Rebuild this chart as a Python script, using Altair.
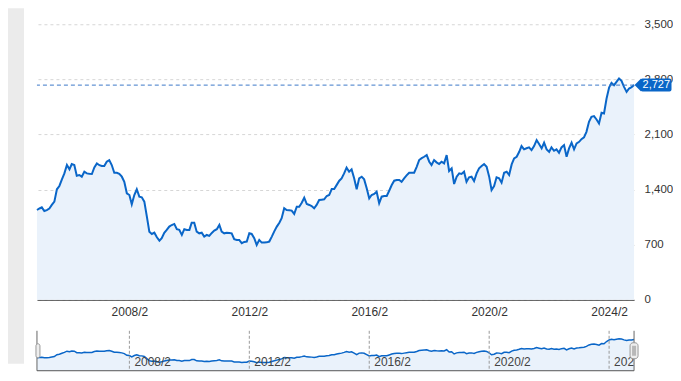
import altair as alt
import pandas as pd

# ---- data ----
start_month = "2005-01-01"
n_months = 240
prices = [
    1141, 1160, 1175, 1128, 1140, 1160, 1205, 1247, 1404, 1446,
    1530, 1606, 1712, 1657, 1724, 1712, 1576, 1585, 1564, 1627,
    1606, 1600, 1598, 1682, 1733, 1710, 1699, 1699, 1754, 1775,
    1712, 1614, 1614, 1600, 1564, 1500, 1353, 1331, 1213, 1331,
    1404, 1310, 1302, 1247, 1056, 866, 837, 853, 795, 752,
    782, 850, 888, 930, 950, 964, 897, 888, 824, 897,
    888, 888, 980, 980, 866, 845, 853, 803, 824, 812,
    850, 879, 897, 951, 866, 845, 853, 850, 845, 770,
    761, 761, 719, 735, 740, 845, 837, 782, 697, 761,
    727, 727, 730, 740, 803, 870, 930, 980, 1036, 1163,
    1141, 1138, 1133, 1091, 1183, 1183, 1234, 1297, 1217, 1205,
    1192, 1163, 1205, 1268, 1272, 1276, 1319, 1331, 1407, 1407,
    1460, 1513, 1543, 1606, 1678, 1627, 1657, 1543, 1404, 1543,
    1564, 1530, 1416, 1289, 1331, 1344, 1373, 1226, 1310, 1319,
    1319, 1386, 1458, 1513, 1522, 1522, 1500, 1543, 1580, 1614,
    1614, 1614, 1690, 1775, 1800, 1817, 1839, 1754, 1712, 1775,
    1746, 1724, 1754, 1733, 1839, 1636, 1670, 1471, 1564, 1606,
    1598, 1627, 1500, 1556, 1564, 1509, 1606, 1670, 1700, 1724,
    1690, 1564, 1395, 1446, 1556, 1543, 1488, 1614, 1627, 1585,
    1720, 1797, 1817, 1880, 1953, 1911, 1925, 1936, 1902, 1953,
    2029, 1978, 1923, 1995, 1911, 1880, 1936, 1893, 1911, 1868,
    1936, 1965, 1817, 1923, 1995, 1911, 1987, 2007, 2040, 2063,
    2134, 2261, 2324, 2333, 2290, 2240, 2375, 2367, 2557, 2697,
    2756, 2726, 2768, 2811, 2781, 2705, 2641, 2684, 2700, 2727,
]
y_ticks = [0, 700, 1400, 2100, 2800, 3500]
tick_years = [2008, 2012, 2016, 2020, 2024]
tick_month = 2
tick_labels = ["2008/2", "2012/2", "2016/2", "2020/2", "2024/2"]

dates = pd.date_range(start_month, periods=n_months, freq="MS").strftime("%Y-%m-%dT00:00:00")
df = pd.DataFrame({"date": dates, "value": prices})
last_df = df.tail(1)
ticks_df = pd.DataFrame({
    "date": [f"{y}-{tick_month:02d}-01T00:00:00" for y in tick_years],
    "label": tick_labels,
})
dummy = pd.DataFrame({"a": [0]})

LINE = "#0a66c8"
FILL = "#eaf2fb"
W, H, NH = 598, 276, 40

x_domain = [alt.DateTime(year=2005, month=1, date=1), alt.DateTime(year=2024, month=12, date=1)]
x_scale = alt.Scale(domain=x_domain)
y_scale = alt.Scale(domain=[0, 3500], nice=False)

X_main = alt.X("date:T", scale=x_scale, axis=alt.Axis(
    values=[alt.DateTime(year=y, month=tick_month, date=1) for y in tick_years],
    format="%Y/%-m", labelAngle=0, ticks=False, grid=False, title=None,
    domainColor="#4d4d4d", domainWidth=1, labelPadding=7, labelFontSize=12,
    labelColor="#333333"))
Y_main = alt.Y("value:Q", scale=y_scale, axis=alt.Axis(
    orient="right", values=y_ticks, format=",d", title=None, ticks=False,
    domain=False, labelAlign="left", labelPadding=10, labelFontSize=11.5,
    labelColor="#333333", gridColor="#d6d6d6", gridDash=[3, 3], labelBaseline="middle"))

base = alt.Chart(df).encode(x=X_main, y=Y_main)
strip = alt.Chart(dummy).mark_rect(color="#ebebeb").encode(
    x=alt.value(-29), x2=alt.value(-13), y=alt.value(-16), y2=alt.value(340))
area = base.mark_area(color=FILL, opacity=1)
line = base.mark_line(color=LINE, strokeWidth=2)
last_rule = alt.Chart(last_df).mark_rule(color="#3b78c8", strokeDash=[4, 3], strokeWidth=1).encode(y=Y_main)
tag_rect = alt.Chart(last_df).mark_rect(color=LINE, yOffset=-6.5, y2Offset=6.5, cornerRadius=2).encode(
    x=alt.value(604.5), x2=alt.value(635.5), y=Y_main, y2=alt.Y2("value"))
tag_tip = alt.Chart(last_df).mark_point(shape="M -1 0 L 0 -1 L 0 1 Z", filled=True, size=169,
                                        color=LINE, opacity=1, strokeWidth=0).encode(
    x=alt.value(605), y=Y_main)
tag_text = alt.Chart(last_df).mark_text(align="left", baseline="middle", color="white", fontSize=11).encode(
    x=alt.value(606.5), y=Y_main, text=alt.Text("value:Q", format=",d"))

main = alt.layer(strip, area, line, last_rule, tag_rect, tag_tip, tag_text).properties(width=W, height=H)

# ---- navigator ----
X_nav = alt.X("date:T", scale=x_scale, axis=None)
Y_nav = alt.Y("value:Q", scale=y_scale, axis=None)
nbase = alt.Chart(df).encode(x=X_nav, y=Y_nav)
n_area = nbase.mark_area(color=FILL, opacity=1)
n_line = nbase.mark_line(color=LINE, strokeWidth=1.5)
n_rules = alt.Chart(ticks_df).mark_rule(color="#999999", strokeDash=[3, 2], strokeWidth=1).encode(x=X_nav)
n_text = alt.Chart(ticks_df).mark_text(align="left", baseline="middle", dx=5, clip=True,
                                       fontSize=12, color="#444444").encode(
    x=X_nav, y=alt.value(31), text="label:N")
n_left = alt.Chart(dummy).mark_rule(color="#666666").encode(x=alt.value(0), y=alt.value(0), y2=alt.value(NH))
n_right = alt.Chart(dummy).mark_rule(color="#666666").encode(x=alt.value(W), y=alt.value(0), y2=alt.value(NH))
n_bottom = alt.Chart(dummy).mark_rule(color="#555555").encode(x=alt.value(0), x2=alt.value(W), y=alt.value(NH))
h_left = alt.Chart(dummy).mark_rect(fill="#eeeeee", stroke="#999999", strokeWidth=1, cornerRadius=2).encode(
    x=alt.value(-1), x2=alt.value(3), y=alt.value(13), y2=alt.value(27))
h_right = alt.Chart(dummy).mark_rect(fill="#eeeeee", stroke="#999999", strokeWidth=1, cornerRadius=3).encode(
    x=alt.value(594), x2=alt.value(602), y=alt.value(12), y2=alt.value(28))
h_right_in = alt.Chart(dummy).mark_rect(fill="#b8b8b8").encode(
    x=alt.value(596), x2=alt.value(600), y=alt.value(15), y2=alt.value(25))

nav = alt.layer(n_area, n_line, n_rules, n_text, n_left, n_right, n_bottom,
                h_left, h_right, h_right_in).properties(width=W, height=NH)

chart = alt.vconcat(main, nav, spacing=31, bounds="flush").resolve_scale(
    x="independent", y="independent").properties(padding=0).configure(
    font="Liberation Sans").configure_view(strokeWidth=0)

chart.save("out.html", embed_options={"renderer": "svg", "actions": False})
